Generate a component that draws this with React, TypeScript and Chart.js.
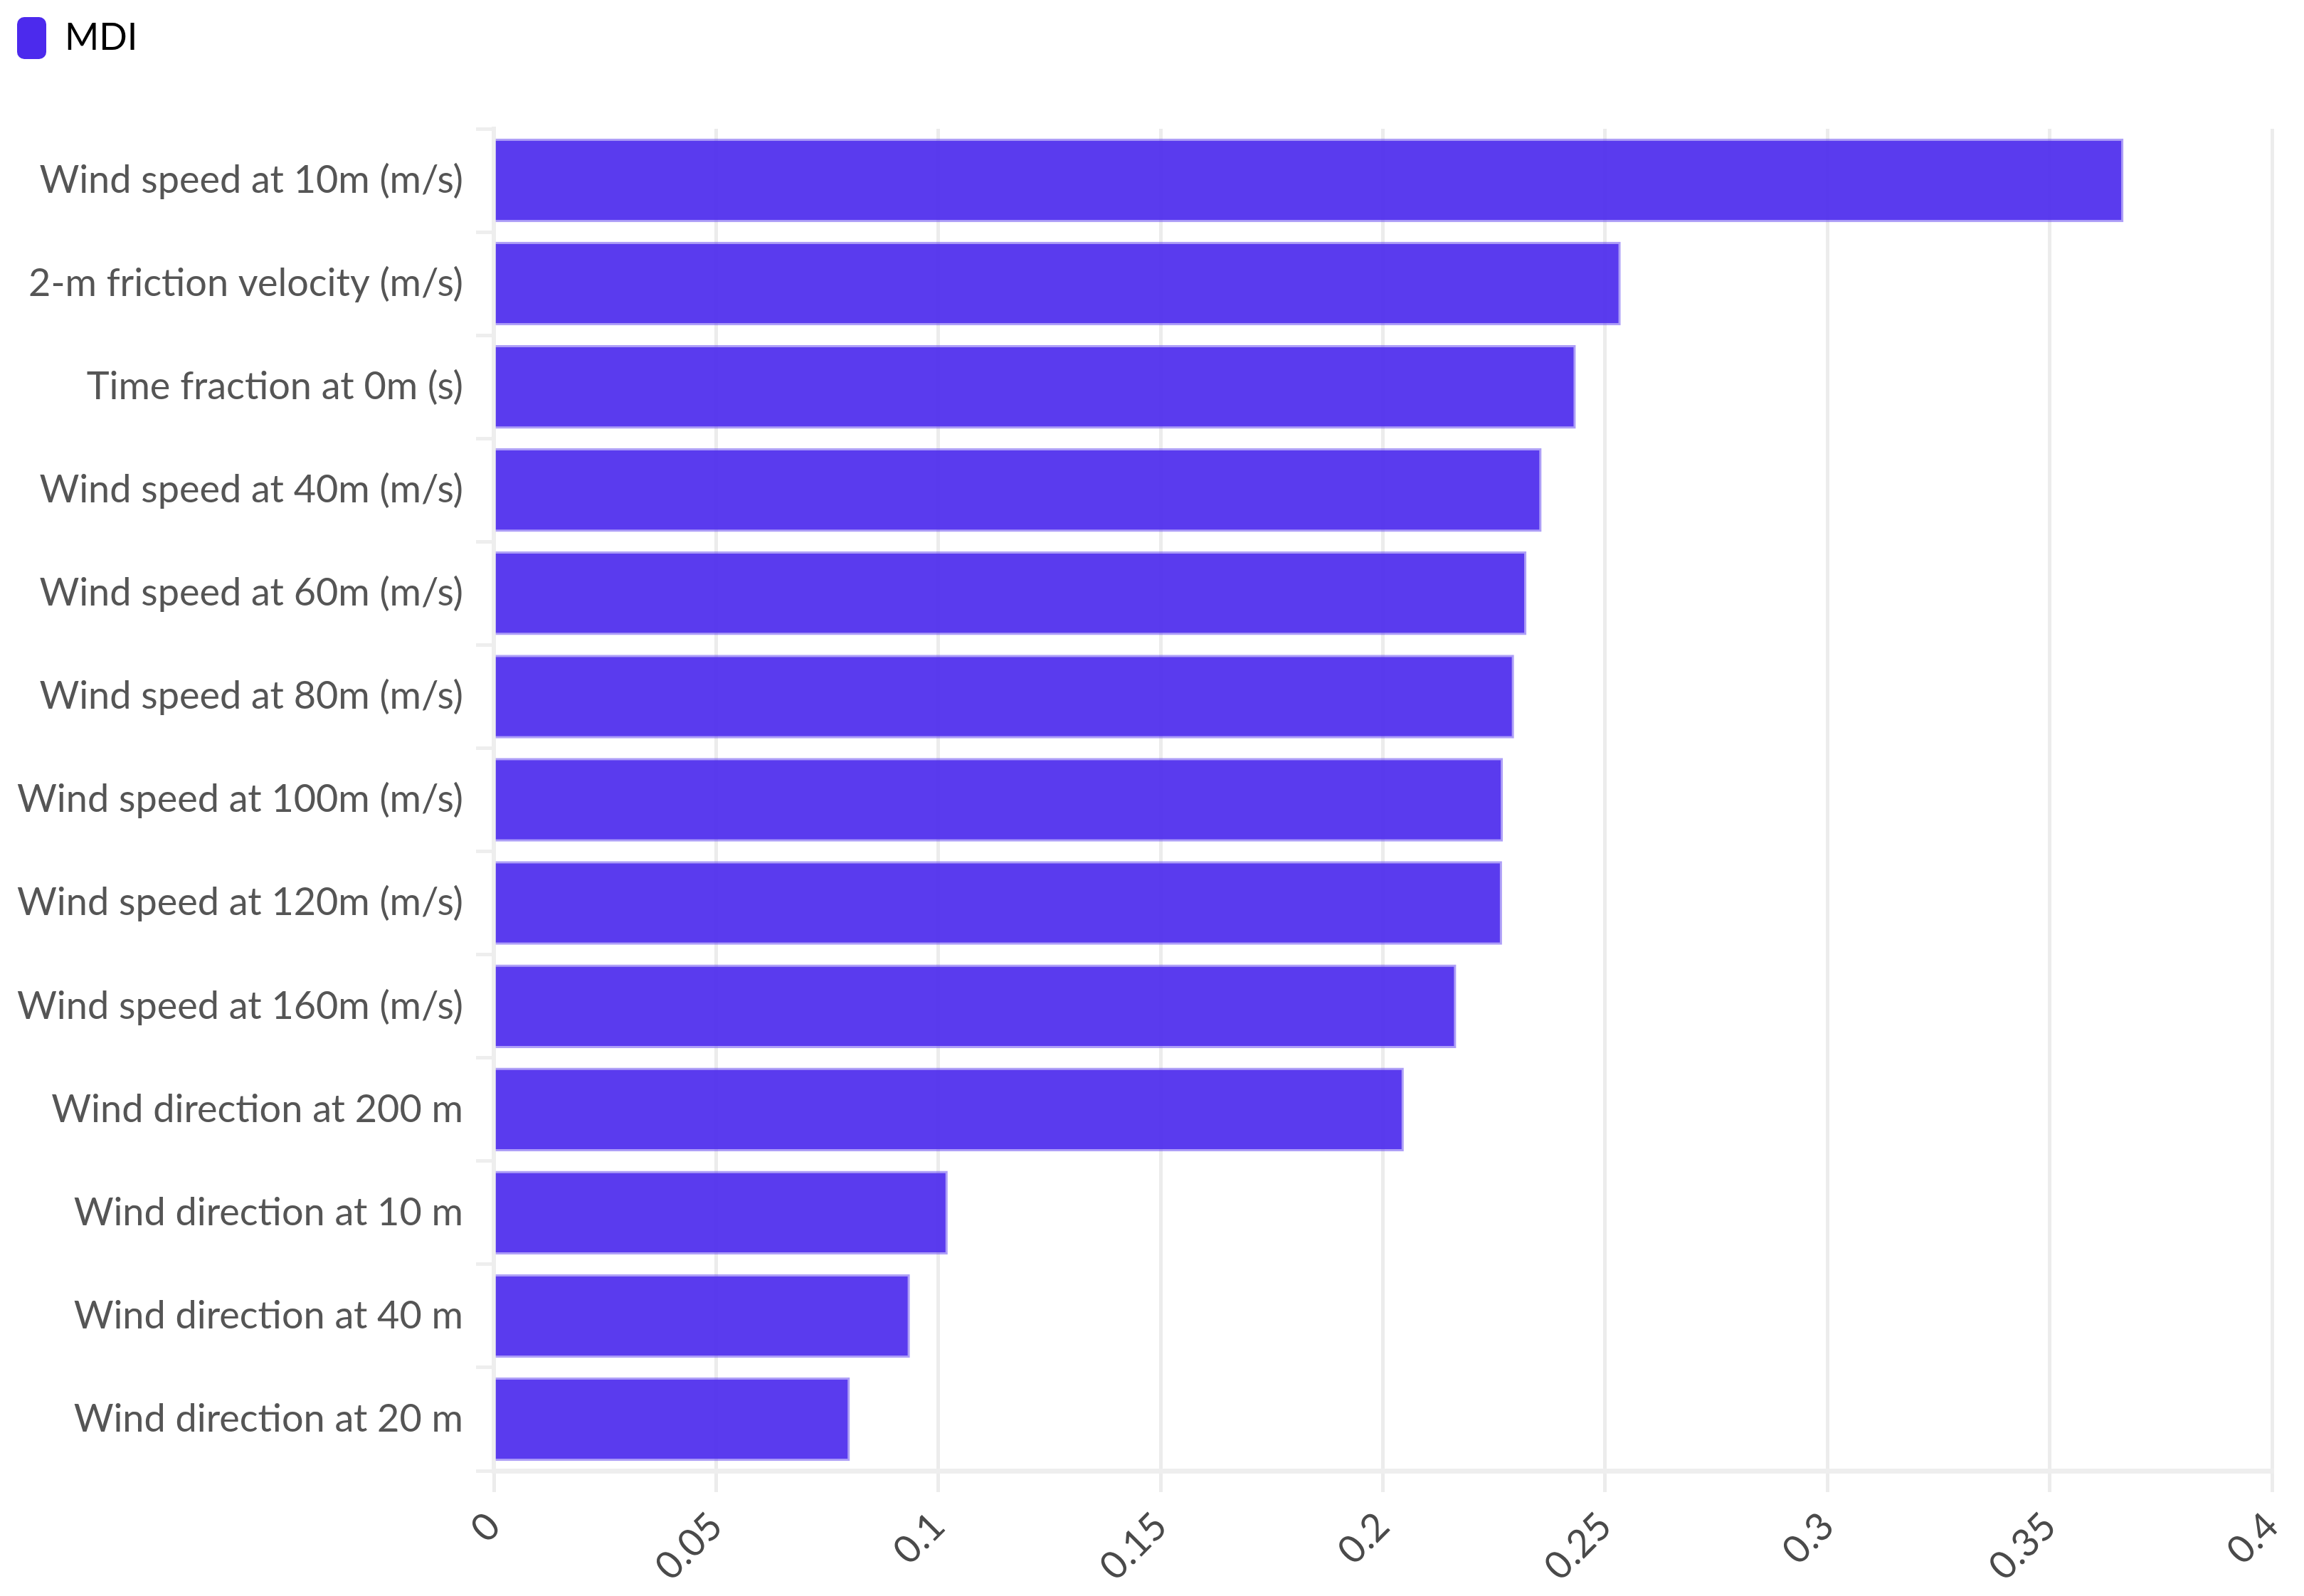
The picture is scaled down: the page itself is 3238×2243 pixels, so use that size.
import { useEffect, useRef } from "react";
import Chart from "chart.js/auto";

const features = [
  "Wind speed at 10m (m/s)",
  "2-m friction velocity (m/s)",
  "Time fraction at 0m (s)",
  "Wind speed at 40m (m/s)",
  "Wind speed at 60m (m/s)",
  "Wind speed at 80m (m/s)",
  "Wind speed at 100m (m/s)",
  "Wind speed at 120m (m/s)",
  "Wind speed at 160m (m/s)",
  "Wind direction at 200 m",
  "Wind direction at 10 m",
  "Wind direction at 40 m",
  "Wind direction at 20 m",
];

const mdiValues = [
  0.3666, 0.2535, 0.2434, 0.2357, 0.2323, 0.2295, 0.227, 0.2268, 0.2165,
  0.2047, 0.1021, 0.0936, 0.0801,
];

const xTickLabels = ["0", "0.05", "0.1", "0.15", "0.2", "0.25", "0.3", "0.35", "0.4"];

const FONT = "Lato, 'Open Sans', sans-serif";

const MdiChart = () => {
  const chartRef = useRef<HTMLCanvasElement>(null);

  useEffect(() => {
    if (!chartRef.current) return;

    const chart = new Chart(chartRef.current, {
      type: "bar",
      data: {
        labels: features,
        datasets: [
          {
            label: "MDI",
            data: mdiValues,
            backgroundColor: "rgba(76, 42, 237, 0.92)",
            borderColor: "rgba(120, 95, 242, 0.6)",
            borderWidth: { top: 3, right: 3, bottom: 3, left: 0 },
            borderSkipped: false,
            barPercentage: 0.9,
            categoryPercentage: 0.9,
          },
        ],
      },
      options: {
        responsive: true,
        maintainAspectRatio: false,
        animation: false,
        indexAxis: "y",
        layout: {
          padding: { top: 0, right: 45, bottom: 0, left: 0 },
        },
        plugins: {
          tooltip: { enabled: false },
          legend: {
            position: "top",
            align: "start",
            labels: {
              boxWidth: 41,
              boxHeight: 59,
              padding: 24,
              color: "#3a3a3a",
              font: { family: FONT, size: 52 },
              generateLabels: () => [
                {
                  text: "MDI",
                  fillStyle: "#4c2aed",
                  strokeStyle: "#4c2aed",
                  lineWidth: 0,
                  hidden: false,
                  datasetIndex: 0,
                  borderRadius: 10,
                },
              ],
            },
          },
        },
        scales: {
          x: {
            min: 0,
            max: 0.4,
            grid: {
              color: "#ececec",
              lineWidth: 5,
              tickLength: 30,
            },
            border: { color: "#eeeeee", width: 7 },
            ticks: {
              stepSize: 0.05,
              color: "#4a4a4a",
              padding: 16,
              maxRotation: 45,
              minRotation: 45,
              font: { family: FONT, size: 54 },
              callback: (_v, i) => xTickLabels[i],
            },
            afterFit: (scale: any) => {
              scale.height = 176;
              scale.paddingRight = 0;
              scale.paddingLeft = 0;
            },
          },
          y: {
            grid: {
              drawOnChartArea: false,
              tickLength: 25,
              tickWidth: 5,
              tickColor: "#eeeeee",
            },
            border: { color: "#eeeeee", width: 6 },
            ticks: {
              color: "#555555",
              padding: 18,
              font: { family: FONT, size: 54 },
            },
            afterFit: (scale: any) => {
              scale.width = 694;
              scale.paddingTop = 0;
              scale.paddingBottom = 0;
            },
          },
        },
      },
      plugins: [
        {
          id: "legendSpace",
          beforeInit: (c: any) => {
            const legend = c.legend;
            if (!legend) return;
            const fit = legend.fit.bind(legend);
            legend.fit = () => {
              fit();
              legend.height = 181;
            };
          },
        },
      ],
    });

    return () => {
      chart.destroy();
    };
  }, []);

  return (
    <div style={{ position: "absolute", left: 0, top: 0, width: "3238px", height: "2243px" }}>
      <canvas ref={chartRef} />
    </div>
  );
};

export default function App() {
  return <MdiChart />;
}
